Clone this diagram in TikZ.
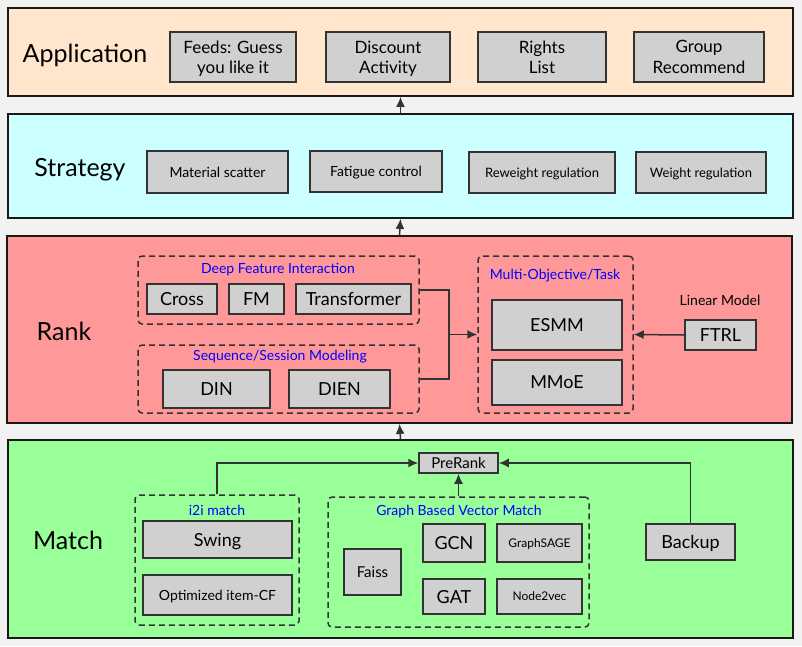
\documentclass[tikz,border=0pt]{standalone}
\usepackage{fontspec}
\setmainfont{Lato}
\usetikzlibrary{positioning,arrows,arrows.meta}

\definecolor{linegray}{HTML}{333333}
\definecolor{boxgray}{HTML}{D0D0D0}
\definecolor{bggray}{HTML}{F2F2F2}
\definecolor{appfill}{HTML}{FFE6CC}
\definecolor{stratfill}{HTML}{CCFFFF}
\definecolor{rankfill}{HTML}{FF9999}
\definecolor{matchfill}{HTML}{99FF99}

\newcommand{\fs}[1]{\fontsize{#1}{#1}\selectfont\baselineskip=1.2\baselineskip}

\begin{document}
\begin{tikzpicture}[x=1pt,y=-1pt,
  layer/.style = {draw=black!90, line width=1.8pt, minimum width=785pt, inner sep=0pt},
  title/.style = {font=\fs{25}, text depth=0pt},
  box/.style = {draw=linegray, fill=boxgray, line width=1.5pt, align=center,
    inner sep=0pt, text depth=0pt},
  group/.style = {draw=linegray, dash pattern=on 6pt off 4pt, rounded corners=4pt,
    line width=1.5pt, inner sep=0pt},
  grouplabel/.style = {text=blue, font=\fs{14}},
  link/.style = {draw=linegray, line width=1.5pt, -{Latex[length=10pt,width=9pt]}}]
  \fill[bggray] (0,0) rectangle (802,646);
  \useasboundingbox (0,0) rectangle (802,646);

  % layers
  \node[layer, fill=appfill, minimum height=88pt] (app) at (400.5,52) {};
  \node[layer, fill=stratfill, minimum height=104pt] (strat) at (400.5,166) {};
  \node[layer, fill=rankfill, minimum height=187pt] (rank) at (399.5,329.5) {};
  \node[layer, fill=matchfill, minimum height=198pt] (match) at (400.5,539) {};
  \node[title] (apptitle) at (85,53) {Application};
  \node[title] (strattitle) at (80,167) {Strategy};
  \node[title] (ranktitle) at (64,331) {Rank};
  \node[title] (matchtitle) at (68,540) {Match};
  \draw[link] (strat.north) -- (app.south);
  \draw[link] (rank.north) -- (strat.south);
  \draw[link] (match.north) -- (rank.south);

  % application
  \node[box, font=\fs{17}, minimum width=126pt, minimum height=50pt] (feeds) at (233,57) {Feeds: Guess\\you like it};
  \node[box, font=\fs{17}, minimum width=124pt, minimum height=50pt] (discount) at (388,57) {Discount\\Activity};
  \node[box, font=\fs{17}, minimum width=128pt, minimum height=50pt] (rights) at (542,57) {Rights\\List};
  \node[box, font=\fs{17}, minimum width=130pt, minimum height=50pt] (group) at (699,57) {Group\\Recommend};

  % strategy
  \node[box, font=\fs{14}, minimum width=141pt, minimum height=42pt] (scatter) at (217.5,172) {Material scatter};
  \node[box, font=\fs{14}, minimum width=132pt, minimum height=41pt] (fatigue) at (376,171.5) {Fatigue control};
  \node[box, font=\fs{13}, minimum width=146pt, minimum height=41pt] (reweight) at (542,172.5) {Reweight regulation};
  \node[box, font=\fs{13}, minimum width=130pt, minimum height=41pt] (weight) at (701,172.5) {Weight regulation};

  % rank
  \node[group, minimum width=281pt, minimum height=68pt] (dfi) at (278.5,290) {};
  \node[grouplabel] (dfilabel) at (278,270) {Deep Feature Interaction};
  \node[box, font=\fs{18}, minimum width=70pt, minimum height=30pt] (cross) at (182,299) {Cross};
  \node[box, font=\fs{18}, minimum width=55pt, minimum height=30pt] (fm) at (256.5,299) {FM};
  \node[box, font=\fs{18}, minimum width=115pt, minimum height=30pt] (transformer) at (353.5,299) {Transformer};
  \node[group, minimum width=281pt, minimum height=68pt] (ssm) at (278.5,379) {};
  \node[grouplabel] (ssmlabel) at (280,357) {Sequence/Session Modeling};
  \node[box, font=\fs{18}, minimum width=107pt, minimum height=38pt] (din) at (216.5,389) {DIN};
  \node[box, font=\fs{18}, minimum width=101pt, minimum height=38pt] (dien) at (339.5,389) {DIEN};
  \node[group, minimum width=155pt, minimum height=157pt] (multi) at (555.5,334.5) {};
  \node[grouplabel] (multilabel) at (555,276) {Multi-Objective/Task};
  \node[box, font=\fs{18}, minimum width=130pt, minimum height=50pt] (esmm) at (557,325) {ESMM};
  \node[box, font=\fs{18}, minimum width=130pt, minimum height=45pt] (mmoe) at (557,382.5) {MMoE};
  \node[font=\fs{14}] (linear) at (720,300) {Linear Model};
  \node[box, font=\fs{18}, minimum width=71pt, minimum height=30pt] (ftrl) at (720.5,335) {FTRL};
  \coordinate (join) at (449,334.5);
  \draw[linegray, line width=1.5pt] (dfi.east) -| (join) |- (ssm.east);
  \draw[link] (join) -- (multi.west);
  \draw[link] (ftrl.west) -- (multi.east);

  % match
  \node[box, font=\fs{15}, minimum width=79pt, minimum height=20pt] (prerank) at (458.5,463) {PreRank};
  \node[group, minimum width=164pt, minimum height=130pt] (i2i) at (217,560) {};
  \node[grouplabel] (i2ilabel) at (217,510) {i2i match};
  \node[box, font=\fs{18}, minimum width=149pt, minimum height=37pt] (swing) at (217.5,539.5) {Swing};
  \node[box, font=\fs{14}, minimum width=149pt, minimum height=40pt] (itemcf) at (217.5,595) {Optimized item-CF};
  \node[group, minimum width=261pt, minimum height=130pt] (graph) at (458.5,562) {};
  \node[grouplabel] (graphlabel) at (459,512) {Graph Based Vector Match};
  \node[box, font=\fs{15}, minimum width=57pt, minimum height=46pt] (faiss) at (372.5,572) {Faiss};
  \node[box, font=\fs{18}, minimum width=62pt, minimum height=38pt] (gcn) at (454,543) {GCN};
  \node[box, font=\fs{12}, minimum width=85pt, minimum height=38pt] (sage) at (539.5,543) {GraphSAGE};
  \node[box, font=\fs{18}, minimum width=62pt, minimum height=35pt] (gat) at (454,596.5) {GAT};
  \node[box, font=\fs{12}, minimum width=85pt, minimum height=35pt] (node2vec) at (539.5,596.5) {Node2vec};
  \node[box, font=\fs{18}, minimum width=89pt, minimum height=36pt] (backup) at (690.5,542) {Backup};
  \draw[link] (i2i.north) |- (prerank.west);
  \draw[link] (graph.north) -- (prerank.south);
  \draw[link] (backup.north) |- (prerank.east);
\end{tikzpicture}
\end{document}
